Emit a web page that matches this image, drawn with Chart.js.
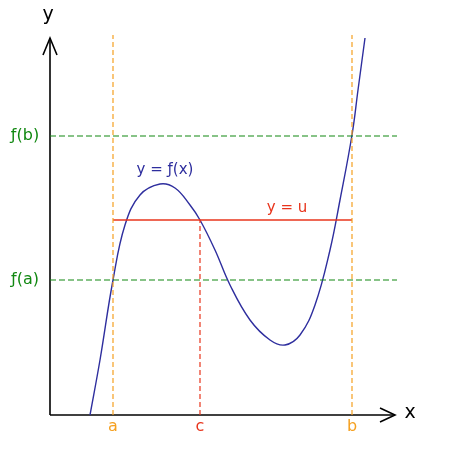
<!DOCTYPE html>
<html>
<head>
<meta charset="utf-8">
<script src="https://cdn.jsdelivr.net/npm/chart.js@4"></script>
<style>body{margin:0;background:#fff}</style>
</head>
<body>
<canvas id="ivt" width="450" height="450"></canvas>
<script>
'use strict'

// curve y = f(x) (origin at the axes corner)
let curveX = [40, 50, 63, 75, 90, 110, 125, 140, 150, 165, 180, 200, 220, 235, 250, 265, 280, 290, 302, 308, 315];
let curveY = [0, 55, 135, 190, 220, 231, 227, 210, 195, 165, 130, 95, 75, 70, 80, 110, 165, 215, 280, 325, 377];

let xA = 63, xC = 150, xB = 302;
let fA = 135, fB = 279, u = 195;
let guideTop = 380, guideRight = 347;

const pts = (xs, ys) => xs.map((x, i) => ({x: x, y: ys[i]}));

const blue = '#2e2e9e', green = '#118811', orange = '#f5a020', red = '#e8341c';

const line = (data, color, dash, width) => ({
    data: data, borderColor: color, borderWidth: width || 1.2, borderDash: dash || [],
    pointRadius: 0, showLine: true, fill: false, tension: 0
});

const datasets = [
    line([{x: 0, y: fA}, {x: guideRight, y: fA}], green, [6, 3]),
    line([{x: 0, y: fB}, {x: guideRight, y: fB}], green, [6, 3]),
    line([{x: xA, y: 0}, {x: xA, y: guideTop}], orange, [5, 3]),
    line([{x: xB, y: 0}, {x: xB, y: guideTop}], orange, [5, 3]),
    line([{x: xC, y: 0}, {x: xC, y: u}], red, [5, 3]),
    line([{x: xA, y: u}, {x: xB, y: u}], red, [], 1.3),
    Object.assign(line(pts(curveX, curveY), blue, [], 1.4), {tension: 0.4}),
    // axes with arrow heads
    line([{x: 0, y: 0}, {x: 345, y: 0}], '#000', [], 1.6),
    line([{x: 330, y: 7}, {x: 345, y: 0}, {x: 330, y: -7}], '#000', [], 1.6),
    line([{x: 0, y: 0}, {x: 0, y: 377}], '#000', [], 1.6),
    line([{x: -7, y: 360}, {x: 0, y: 377}, {x: 7, y: 360}], '#000', [], 1.6)
];

const labels = [
    {t: 'y', x: -2, y: 400, c: '#000', s: 19},
    {t: 'x', x: 360, y: 2, c: '#000', s: 19},
    {t: 'a', x: xA, y: -12, c: orange, s: 16},
    {t: 'c', x: xC, y: -12, c: red, s: 16},
    {t: 'b', x: xB, y: -12, c: orange, s: 16},
    {t: 'y = u', x: 237, y: 207, c: red, s: 15},
    {t: 'y = ƒ(x)', x: 115, y: 245, c: blue, s: 15},
    {t: 'ƒ(b)', x: -25, y: fB, c: green, s: 16},
    {t: 'ƒ(a)', x: -25, y: fA, c: green, s: 16}
];

const textPlugin = {
    id: 'texts',
    afterDatasetsDraw(chart) {
        const ctx = chart.ctx, sx = chart.scales.x, sy = chart.scales.y;
        ctx.save();
        ctx.textAlign = 'center';
        ctx.textBaseline = 'middle';
        labels.forEach(l => {
            ctx.fillStyle = l.c;
            ctx.font = l.s + 'px "DejaVu Sans", sans-serif';
            ctx.fillText(l.t, sx.getPixelForValue(l.x), sy.getPixelForValue(l.y));
        });
        ctx.restore();
    }
};

new Chart(document.getElementById('ivt'), {
    type: 'scatter',
    data: {datasets: datasets},
    options: {
        responsive: false,
        animation: false,
        layout: {padding: 0},
        plugins: {legend: {display: false}, tooltip: {enabled: false}},
        scales: {
            x: {type: 'linear', min: -50, max: 400, display: false},
            y: {type: 'linear', min: -35, max: 415, display: false}
        }
    },
    plugins: [textPlugin]
});
</script>
</body>
</html>
